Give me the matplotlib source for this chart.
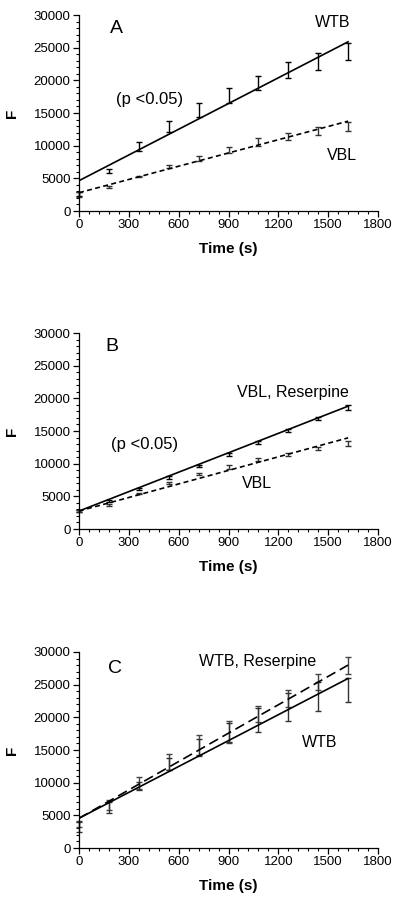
import numpy as np
import matplotlib
matplotlib.use("Agg")
import matplotlib.pyplot as plt
from matplotlib.ticker import MultipleLocator

plt.rcParams['font.family'] = ['Liberation Sans', 'DejaVu Sans']

# sampling times (s)
times = [0, 180, 360, 540, 720, 900, 1080, 1260, 1440, 1620]

# panel A: WTB vs VBL
wtb_a = [2600, 6100, 9870, 12980, 15460, 17630, 19600, 21540, 22860, 24390]
wtb_a_err = [300, 330, 640, 840, 1020, 1150, 1100, 1220, 1280, 1280]
vbl_a = [2500, 3650, 5230, 6840, 8080, 9340, 10540, 11430, 12270, 12980]
vbl_a_err = [350, 140, 80, 200, 380, 500, 590, 560, 630, 690]

# panel B: VBL + reserpine vs VBL
vblres_b = [2700, 4300, 6050, 7850, 9600, 11450, 13200, 15050, 16880, 18620]
vblres_b_err = [150, 150, 150, 200, 180, 200, 200, 230, 230, 400]
vbl_b = [2700, 3650, 5450, 7000, 8350, 9500, 10600, 11450, 12350, 13100]
vbl_b_err = [150, 150, 100, 120, 150, 250, 220, 200, 220, 350]

# panel C: WTB + reserpine vs WTB
wtbres_c = [3600, 6600, 10000, 13200, 15700, 17750, 20500, 22900, 25400, 27950]
wtbres_c_err = [450, 750, 900, 1250, 1550, 1750, 1230, 1270, 1250, 1330]
wtb_c = [3300, 6200, 9500, 12900, 15500, 17700, 19600, 21630, 23200, 24200]
wtb_c_err = [800, 800, 600, 950, 1250, 1450, 1800, 2140, 2200, 1800]

# fitted lines: value at t=0 and at t=1620
fit_a = {'WTB': (4640, 25900), 'VBL': (2800, 13750)}
fit_b = {'VBL, Reserpine': (2750, 18800), 'VBL': (2750, 13950)}
fit_c = {'WTB, Reserpine': (4550, 28000), 'WTB': (4550, 25950)}


def style_axes(ax):
    ax.set_xlim(0, 1800)
    ax.set_ylim(0, 30000)
    ax.spines['top'].set_visible(False)
    ax.spines['right'].set_visible(False)
    ax.spines['left'].set_linewidth(0.9)
    ax.spines['bottom'].set_linewidth(0.9)
    ax.xaxis.set_major_locator(MultipleLocator(300))
    ax.xaxis.set_minor_locator(MultipleLocator(60))
    ax.yaxis.set_major_locator(MultipleLocator(5000))
    ax.yaxis.set_minor_locator(MultipleLocator(1000))
    ax.tick_params(which='major', direction='out', length=4, width=0.9,
                   labelsize=9.5, pad=2)
    ax.tick_params(which='minor', direction='out', length=2.5, width=0.8)
    ax.set_xlabel('Time (s)', fontsize=11, fontweight='bold')
    ax.set_ylabel('F', fontsize=11, fontweight='bold')
    ax.xaxis.set_label_coords(0.5, -0.16)
    ax.yaxis.set_label_coords(-0.2, 0.5)


def fit_line(ax, ends, **kw):
    t = np.array([times[0], times[-1]])
    ax.plot(t, ends, **kw)


fig = plt.figure(figsize=(4.0, 9.05), dpi=100)
w = 299 / 400
h = 196 / 905
axA = fig.add_axes([79 / 400, (905 - 211) / 905, w, h])
axB = fig.add_axes([79 / 400, (905 - 529) / 905, w, h])
axC = fig.add_axes([79 / 400, (905 - 848) / 905, w, h])

eb = dict(fmt='none', elinewidth=1.0, capthick=1.0, clip_on=False)

# A
axA.errorbar(times, wtb_a, yerr=wtb_a_err, ecolor='black', capsize=2.4, **eb)
axA.errorbar(times, vbl_a, yerr=vbl_a_err, ecolor='#333333', capsize=2.0, **eb)
fit_line(axA, fit_a['WTB'], color='black', lw=1.2)
fit_line(axA, fit_a['VBL'], color='black', lw=1.2, dashes=(3, 2))
axA.text(223, 28000, 'A', fontsize=14, ha='center', va='center')
axA.text(1529, 28780, 'WTB', fontsize=11.5, ha='center', va='center')
axA.text(427, 17000, '(p <0.05)', fontsize=12, ha='center', va='center')
axA.text(1583, 8420, 'VBL', fontsize=11.5, ha='center', va='center')
style_axes(axA)

# B
axB.errorbar(times, vblres_b, yerr=vblres_b_err, ecolor='black', capsize=2.0, **eb)
axB.errorbar(times, vbl_b, yerr=vbl_b_err, ecolor='#333333', capsize=2.0, **eb)
fit_line(axB, fit_b['VBL, Reserpine'], color='black', lw=1.2)
fit_line(axB, fit_b['VBL'], color='black', lw=1.2, dashes=(3, 2))
axB.text(199, 27860, 'B', fontsize=14, ha='center', va='center')
axB.text(1288, 20820, 'VBL, Reserpine', fontsize=11.5, ha='center', va='center')
axB.text(397, 12860, '(p <0.05)', fontsize=12, ha='center', va='center')
axB.text(1072, 6890, 'VBL', fontsize=11.5, ha='center', va='center')
style_axes(axB)

# C
axC.errorbar(times, wtbres_c, yerr=wtbres_c_err, ecolor='#444444', capsize=2.4, **eb)
axC.errorbar(times, wtb_c, yerr=wtb_c_err, ecolor='#333333', capsize=2.4, **eb)
fit_line(axC, fit_c['WTB, Reserpine'], color='black', lw=1.2, dashes=(6, 3))
fit_line(axC, fit_c['WTB'], color='black', lw=1.2)
axC.text(217, 27550, 'C', fontsize=14, ha='center', va='center')
axC.text(1078, 28470, 'WTB, Reserpine', fontsize=11.5, ha='center', va='center')
axC.text(1451, 16220, 'WTB', fontsize=11.5, ha='center', va='center')
style_axes(axC)

fig.savefig('out.png', dpi=100)
